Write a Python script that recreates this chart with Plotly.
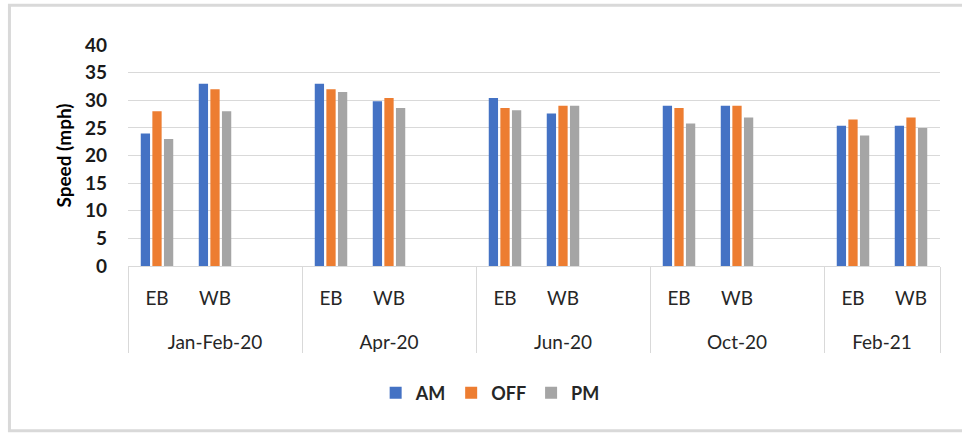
import plotly.graph_objects as go

periods = ["Jan-Feb-20", "Apr-20", "Jun-20", "Oct-20", "Feb-21"]
directions = ["EB", "WB"]
am = [24.0, 33.0, 33.0, 29.8, 30.4, 27.6, 29.0, 29.0, 25.4, 25.4]
off = [28.0, 32.0, 32.0, 30.4, 28.6, 29.0, 28.6, 29.0, 26.5, 26.9]
pm = [23.0, 28.0, 31.5, 28.6, 28.2, 29.0, 25.8, 26.9, 23.6, 25.0]
y_ticks = [0, 5, 10, 15, 20, 25, 30, 35, 40]

# spacer category (empty slot) label; its larger invisible glyph box sets the gap to the 2nd label row
SPACER = "<span style='font-size:26px'>\u00a0</span>"

# build multicategory positions; a blank slot follows every period except the last
lvl0, lvl1, am_v, off_v, pm_v = [], [], [], [], []
k = 0
for i, p in enumerate(periods):
    plabel = "<br>" + p
    for d in directions:
        lvl0.append(plabel); lvl1.append(d)
        am_v.append(am[k]); off_v.append(off[k]); pm_v.append(pm[k])
        k += 1
    if i < len(periods) - 1:
        lvl0.append(plabel); lvl1.append(SPACER)
        am_v.append(None); off_v.append(None); pm_v.append(None)

FONT = "Lato, 'Open Sans', sans-serif"
fig = go.Figure()
for name, vals, col in [("AM", am_v, "#4472C4"), ("OFF", off_v, "#ED7D31"), ("PM", pm_v, "#A5A5A5")]:
    fig.add_trace(go.Bar(x=[lvl0, lvl1], y=vals, name=name, marker=dict(color=col, line=dict(width=0))))

fig.update_layout(
    width=962, height=433,
    margin=dict(l=128, r=22, t=45, b=167),
    paper_bgcolor="white", plot_bgcolor="white",
    barmode="group", bargap=0.4, bargroupgap=0.2,
    font=dict(family=FONT, color="#262626"),
    legend=dict(orientation="h", x=0.446, xanchor="center", y=-0.575, yanchor="middle",
                font=dict(size=18, weight="bold", color="#262626"), itemwidth=30,
                traceorder="normal"),
    showlegend=True,
)
fig.update_yaxes(range=[0, 40], tickvals=y_ticks, showgrid=True, gridcolor="#d9d9d9", gridwidth=1,
                 zeroline=False, showline=False, ticks="", ticklabelstandoff=20,
                 tickfont=dict(size=19, weight="bold", color="#1a1a1a"),
                 title=dict(text="Speed (mph)", font=dict(size=19, weight="bold", color="#000000"), standoff=8))
fig.update_xaxes(type="multicategory", showline=True, linecolor="#d9d9d9", linewidth=1,
                 ticks="", ticklabelstandoff=15,
                 showdividers=True, dividercolor="#d9d9d9", dividerwidth=1,
                 tickfont=dict(size=19, color="#262626"))

# outer chart frame
fig.add_shape(type="rect", xref="paper", yref="paper", x0=-0.146, x1=1.06, y0=-0.745, y1=1.18,
              line=dict(color="#d9d9d9", width=3), fillcolor="rgba(0,0,0,0)", layer="below")

fig.write_html("out.html", config={"displayModeBar": False},
               post_script="document.body.style.margin='0';")
